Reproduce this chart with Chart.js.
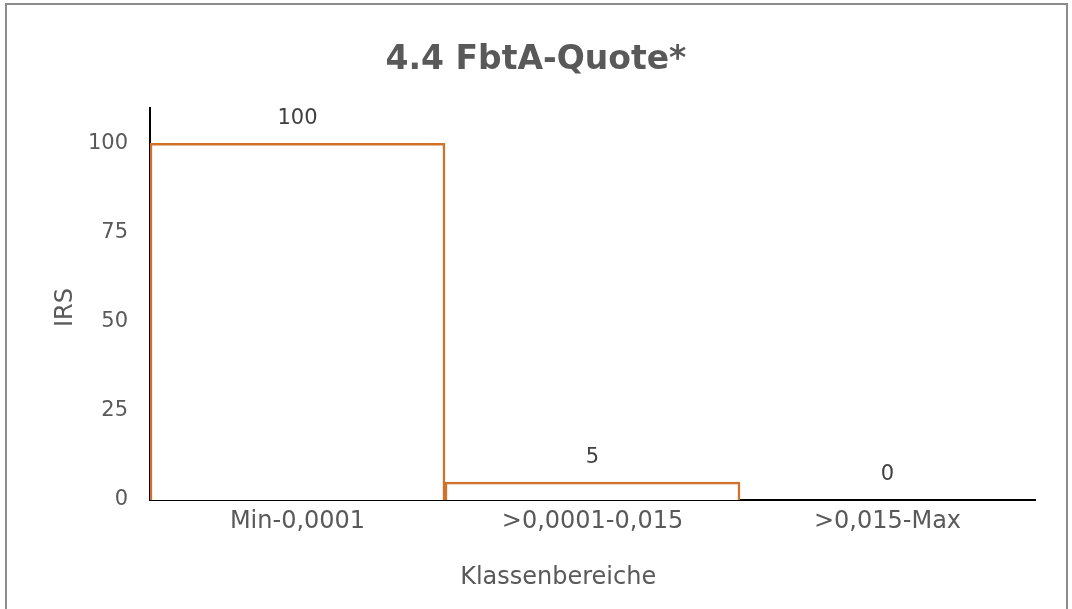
<!DOCTYPE html>
<html>
<head>
<meta charset="utf-8">
<script src="https://cdn.jsdelivr.net/npm/chart.js@4"></script>
<style>
	html, body { margin: 0; padding: 0; background: #fff; }
	#wrap { position: relative; width: 1072px; height: 609px; overflow: hidden; }
	#frame { position: absolute; left: 5px; top: 3px; width: 1063px; height: 640px; border: 2px solid #8c8c8c; box-sizing: border-box; }
	canvas { position: absolute; left: 0; top: 0; }
</style>
</head>
<body>
<div id="wrap">
	<div id="frame"></div>
	<canvas id="chart" width="1072" height="609"></canvas>
</div>
<script>
const categories = ['Min-0,0001', '>0,0001-0,015', '>0,015-Max']
const irsValues = [100, 5, 0]
const yTicks = [0, 25, 50, 75, 100]

const fontFamily = "Verdana, 'DejaVu Sans', sans-serif"
const textGray = '#595959'
const barOrange = '#D2722A'

// value labels above each bar
const valueLabels = {
	id: 'valueLabels',
	afterDatasetsDraw(chart) {
		const ctx = chart.ctx
		const meta = chart.getDatasetMeta(0)
		ctx.save()
		ctx.font = "21px " + fontFamily
		ctx.fillStyle = '#404040'
		ctx.textAlign = 'center'
		ctx.textBaseline = 'middle'
		meta.data.forEach((bar, i) => {
			ctx.fillText(String(irsValues[i]), bar.x, bar.y - 25)
		})
		ctx.restore()
	}
}

const chart = new Chart(document.getElementById('chart'), {
	type: 'bar',
	data: {
		labels: categories,
		datasets: [{
			data: irsValues,
			backgroundColor: '#ffffff',
			borderColor: barOrange,
			borderWidth: 2.5,
			barPercentage: 1,
			categoryPercentage: 1
		}]
	},
	options: {
		responsive: false,
		animation: false,
		layout: { padding: 0 },
		plugins: {
			legend: { display: false },
			tooltip: { enabled: false },
			title: {
				display: true,
				text: '4.4 FbtA-Quote*',
				color: textGray,
				font: { family: fontFamily, size: 33, weight: 'bold' },
				padding: { top: 41, bottom: 27 }
			}
		},
		scales: {
			x: {
				z: 1,
				grid: { display: false, drawTicks: false },
				border: { display: true, color: '#000', width: 2 },
				ticks: { color: textGray, font: { family: fontFamily, size: 24 }, padding: 7, maxRotation: 0 },
				title: {
					display: true,
					// trailing spaces pull the centred title left, as in the original
					text: 'Klassenbereiche         ',
					color: textGray,
					font: { family: fontFamily, size: 24 },
					padding: { top: 0, bottom: 17 }
				},
				afterFit(scale) { scale.height = 109 }
			},
			y: {
				z: 1,
				min: 0,
				max: 110,
				grid: { display: false, drawTicks: false },
				border: { display: true, color: '#000', width: 2 },
				afterBuildTicks(scale) { scale.ticks = yTicks.map(v => ({ value: v })) },
				ticks: { color: textGray, font: { family: fontFamily, size: 21 }, padding: 22 },
				title: {
					display: true,
					text: 'IRS ',
					color: textGray,
					font: { family: fontFamily, size: 24 },
					padding: { top: 51, bottom: 0 }
				},
				afterFit(scale) { scale.width = 150 }
			},
			// empty right-hand strip so the plot ends short of the frame
			yRight: {
				type: 'linear',
				position: 'right',
				grid: { display: false, drawTicks: false },
				border: { display: false },
				ticks: { display: false },
				afterFit(scale) { scale.width = 37 }
			}
		}
	},
	plugins: [valueLabels]
})
</script>
</body>
</html>
